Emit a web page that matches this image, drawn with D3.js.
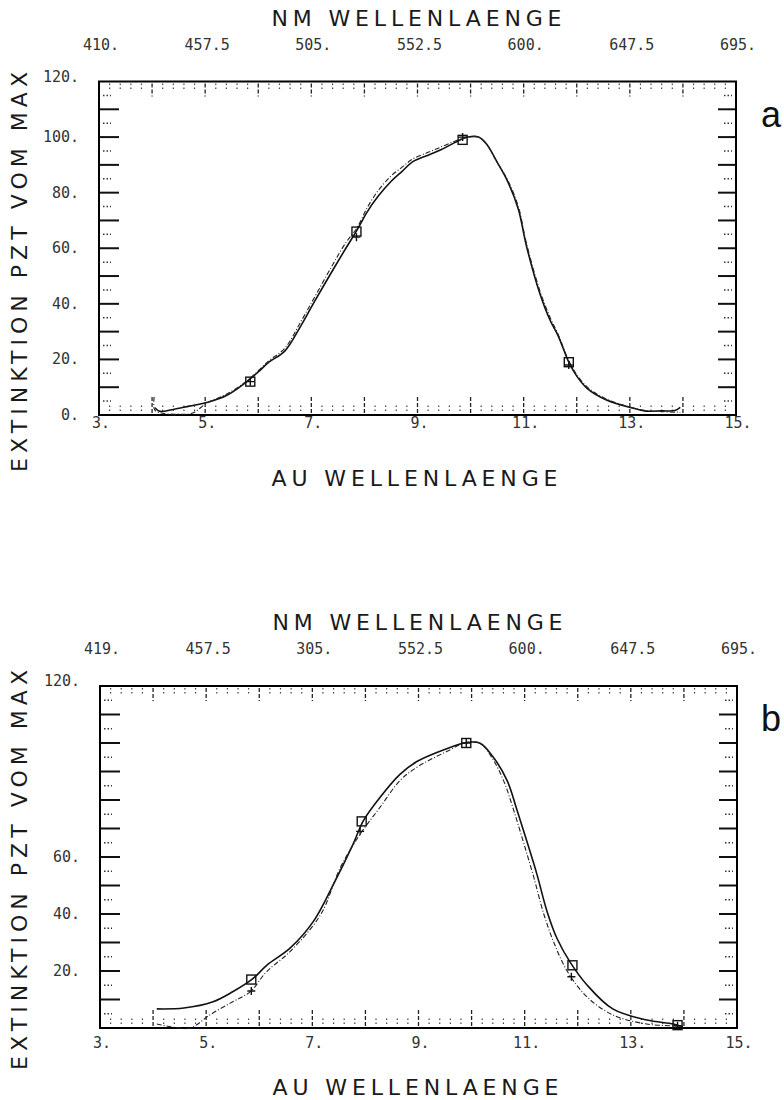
<!DOCTYPE html>
<html>
<head>
<meta charset="utf-8">
<script src="https://cdn.jsdelivr.net/npm/d3@7"></script>
<style>
  body { margin: 0; background: #fff; }
  .tick-label { font-family: "DejaVu Sans Mono", monospace; font-size: 15px; fill: #333; }
  .axis-title { font-family: "DejaVu Sans", sans-serif; font-size: 22px; fill: #1a1a1a; }
  .panel-letter { font-family: "Liberation Sans", Arial, sans-serif; font-size: 36px; fill: #111; }
</style>
</head>
<body>
<svg id="chart" width="784" height="1100"></svg>
<script>
const AU_TICKS = [3, 5, 7, 9, 11, 13, 15];
const NM_LABELS_A = ["410.", "457.5", "505.", "552.5", "600.", "647.5", "695."];
const NM_LABELS_B = ["419.", "457.5", "305.", "552.5", "600.", "647.5", "695."];
const Y_LABELS_A = [0, 20, 40, 60, 80, 100, 120];
const Y_LABELS_B = [20, 40, 60, 120];

// panel a, [AU, % of max]
const solidA = [[4.05,2.6],[4.15,1.3],[4.4,2.0],[4.7,3.2],[5.05,4.6],[5.4,7],[5.75,11.5],[6.0,15.5],[6.2,19],
  [6.5,23],[6.8,32],[7.05,40.5],[7.4,52],[7.65,60],[7.86,66.5],[8.05,73],[8.25,78.5],[8.5,84],[8.7,87.5],
  [8.9,91],[9.2,93.5],[9.45,95.5],[9.7,98],[9.95,100],[10.15,100],[10.3,97.5],[10.5,91],[10.7,84],[10.9,74],
  [11.05,61],[11.3,44],[11.5,34],[11.65,28.5],[11.85,19],[12.0,14],[12.2,9.5],[12.55,5.5],[13.05,2.5],
  [13.3,1.4],[13.6,1.5],[13.85,1.6],[13.95,2.7]];
const dashA = [[4.04,6.5],[4.05,1.8],[4.2,0.6],[4.5,0.3],[4.75,0.6],[5.05,4.5],[5.4,7.5],[5.8,12.5],[6.2,19.5],
  [6.5,24],[6.8,33.5],[7.05,42],[7.4,54],[7.65,62],[7.85,67],[8.05,74.5],[8.25,80.5],[8.5,86],[8.7,89],
  [8.9,92],[9.2,94.5],[9.45,96.5],[9.7,98.5],[9.95,100],[10.15,100],[10.3,97.5],[10.5,91],[10.7,84.5],
  [10.9,75],[11.05,62],[11.3,45],[11.5,35],[11.65,29],[11.85,19.5],[12.0,14.5],[12.2,10],[12.55,5.8],
  [13.05,2.6],[13.3,1.6],[13.6,1.2],[13.95,1.0]];
const squaresA = [[5.85,12],[7.85,66],[9.85,99],[11.85,19]];
const plusesA = [[5.85,12],[7.85,64],[9.85,100],[11.85,18]];

// panel b
const solidB = [[4.07,6.7],[4.58,7],[5.13,9.2],[5.5,12.7],[5.88,17.3],[6.14,22],[6.58,28],[7.02,37.4],
  [7.4,50.5],[7.77,64.6],[7.96,72.7],[8.27,80.8],[8.65,89],[8.97,93.5],[9.53,98],[9.91,100.2],[10.16,99.9],
  [10.41,95],[10.67,86.8],[10.86,76.2],[11.04,65.6],[11.23,54],[11.42,41],[11.61,31.4],[11.85,23.3],
  [12.17,15.2],[12.66,6.7],[13.3,2.8],[13.8,1.4],[13.98,0.4]];
const dashB = [[4.07,1.4],[4.38,0.3],[4.7,0],[5.07,4.6],[5.5,9.2],[5.83,12.7],[6.14,19.8],[6.58,26.8],
  [7.16,39.9],[7.52,56],[7.9,68],[8.27,77.3],[8.65,86.8],[8.97,91.5],[9.53,97],[9.91,100.2],[10.16,99.9],
  [10.41,94],[10.62,86],[10.8,76],[10.98,65],[11.17,53],[11.36,40],[11.55,30],[11.8,20],[12.17,11],
  [12.66,4.6],[13.3,1.4],[13.94,0.7]];
const squaresB = [[5.85,17],[7.93,72.5],[9.9,100],[11.9,22],[13.88,1]];
const plusesB = [[5.85,13],[7.9,69],[9.9,100],[11.88,18],[13.88,0.8]];

const svg = d3.select("#chart");

const panels = [
  { left: 99, right: 736, top: 81.5, bottom: 415, letter: "a", nm: NM_LABELS_A, yLabels: Y_LABELS_A,
    solid: solidA, dash: dashA, squares: squaresA, pluses: plusesA, xLabelDy: 8, bottomTitleDy: 71,
    yTitleCenter: 272 },
  { left: 100, right: 737, top: 686, bottom: 1028, letter: "b", nm: NM_LABELS_B, yLabels: Y_LABELS_B,
    solid: solidB, dash: dashB, squares: squaresB, pluses: plusesB, xLabelDy: 15, bottomTitleDy: 67,
    yTitleCenter: 870 }
];

panels.forEach(drawPanel);

function drawPanel(p) {
  const x = d3.scaleLinear().domain([3, 15]).range([p.left, p.right]);
  const y = d3.scaleLinear().domain([0, 120]).range([p.bottom, p.top]);
  const g = svg.append("g");

  // ticks: y major every 10, minor at 5; x major every 1, minor every 0.2
  const yMajor = d3.range(10, 120, 10);
  const yMinor = d3.range(5, 120, 10);
  const xMajor = d3.range(4, 15, 1);
  const xMinor = d3.range(3.2, 15, 0.2).filter(v => Math.abs(v - Math.round(v)) > 0.05);

  yMajor.forEach(v => {
    g.append("line").attr("x1", p.left).attr("x2", p.left + 20).attr("y1", y(v)).attr("y2", y(v))
      .attr("stroke", "#111").attr("stroke-width", 2);
    g.append("line").attr("x1", p.right - 18).attr("x2", p.right).attr("y1", y(v)).attr("y2", y(v))
      .attr("stroke", "#111").attr("stroke-width", 2);
  });
  yMinor.forEach(v => {
    g.append("line").attr("x1", p.left + 4).attr("x2", p.left + 12).attr("y1", y(v)).attr("y2", y(v))
      .attr("stroke", "#333").attr("stroke-width", 1.5).attr("stroke-dasharray", "1.5,2");
    g.append("line").attr("x1", p.right - 12).attr("x2", p.right - 4).attr("y1", y(v)).attr("y2", y(v))
      .attr("stroke", "#333").attr("stroke-width", 1.5).attr("stroke-dasharray", "1.5,2");
  });
  xMajor.forEach(v => {
    g.append("line").attr("x1", x(v)).attr("x2", x(v)).attr("y1", p.bottom - 2).attr("y2", p.bottom - 18)
      .attr("stroke", "#222").attr("stroke-width", 1.3).attr("stroke-dasharray", "4,2");
    g.append("line").attr("x1", x(v)).attr("x2", x(v)).attr("y1", p.top + 2).attr("y2", p.top + 15)
      .attr("stroke", "#222").attr("stroke-width", 1.3).attr("stroke-dasharray", "4,2");
  });
  xMinor.forEach(v => {
    g.append("line").attr("x1", x(v)).attr("x2", x(v)).attr("y1", p.bottom - 4).attr("y2", p.bottom - 12)
      .attr("stroke", "#444").attr("stroke-width", 1.2).attr("stroke-dasharray", "1.5,2.5");
    g.append("line").attr("x1", x(v)).attr("x2", x(v)).attr("y1", p.top + 2).attr("y2", p.top + 8)
      .attr("stroke", "#444").attr("stroke-width", 1.2).attr("stroke-dasharray", "1.5,2.5");
  });

  // frame
  g.append("rect").attr("x", p.left).attr("y", p.top)
    .attr("width", p.right - p.left).attr("height", p.bottom - p.top)
    .attr("fill", "none").attr("stroke", "#000").attr("stroke-width", 2);

  // tick labels
  p.yLabels.forEach(v => {
    g.append("text").attr("class", "tick-label")
      .attr("x", p.left - 20).attr("y", y(v) + (v === 120 ? 0 : 5))
      .attr("text-anchor", "end").text(v + ".");
  });
  AU_TICKS.forEach(v => {
    g.append("text").attr("class", "tick-label")
      .attr("x", x(v) + 2).attr("y", p.bottom + p.xLabelDy + 5)
      .attr("text-anchor", "middle").text(v + ".");
  });
  p.nm.forEach((t, i) => {
    g.append("text").attr("class", "tick-label")
      .attr("x", x(AU_TICKS[i]) + 2).attr("y", p.top - 32)
      .attr("text-anchor", "middle").text(t);
  });

  // titles
  const cx = (p.left + p.right) / 2;
  g.append("text").attr("class", "axis-title").attr("x", cx - 1).attr("y", p.top - 56)
    .attr("text-anchor", "middle").attr("textLength", 290).attr("lengthAdjust", "spacing")
    .text("NM WELLENLAENGE");
  g.append("text").attr("class", "axis-title").attr("x", cx - 3).attr("y", p.bottom + p.bottomTitleDy)
    .attr("text-anchor", "middle").attr("textLength", 286).attr("lengthAdjust", "spacing")
    .text("AU WELLENLAENGE");
  g.append("text").attr("class", "axis-title")
    .attr("transform", `translate(27,${p.yTitleCenter}) rotate(-90)`)
    .attr("text-anchor", "middle").attr("textLength", 400).attr("lengthAdjust", "spacing")
    .text("EXTINKTION PZT VOM MAX");
  g.append("text").attr("class", "panel-letter").attr("x", 771).attr("y", p.top + 45)
    .attr("text-anchor", "middle").text(p.letter);

  // curves
  const line = d3.line().x(d => x(d[0])).y(d => y(d[1])).curve(d3.curveCatmullRom.alpha(0.5));
  g.append("path").attr("d", line(p.solid)).attr("fill", "none")
    .attr("stroke", "#111").attr("stroke-width", 1.6);
  g.append("path").attr("d", line(p.dash)).attr("fill", "none")
    .attr("stroke", "#222").attr("stroke-width", 1.1).attr("stroke-dasharray", "5,2,1,2");

  p.squares.forEach(d => {
    g.append("rect").attr("x", x(d[0]) - 4.5).attr("y", y(d[1]) - 4.5).attr("width", 9).attr("height", 9)
      .attr("fill", "none").attr("stroke", "#111").attr("stroke-width", 1.4);
  });
  p.pluses.forEach(d => {
    g.append("path")
      .attr("d", `M${x(d[0]) - 4},${y(d[1])}H${x(d[0]) + 4}M${x(d[0])},${y(d[1]) - 4}V${y(d[1]) + 4}`)
      .attr("stroke", "#111").attr("stroke-width", 1.4);
  });
}
</script>
</body>
</html>
